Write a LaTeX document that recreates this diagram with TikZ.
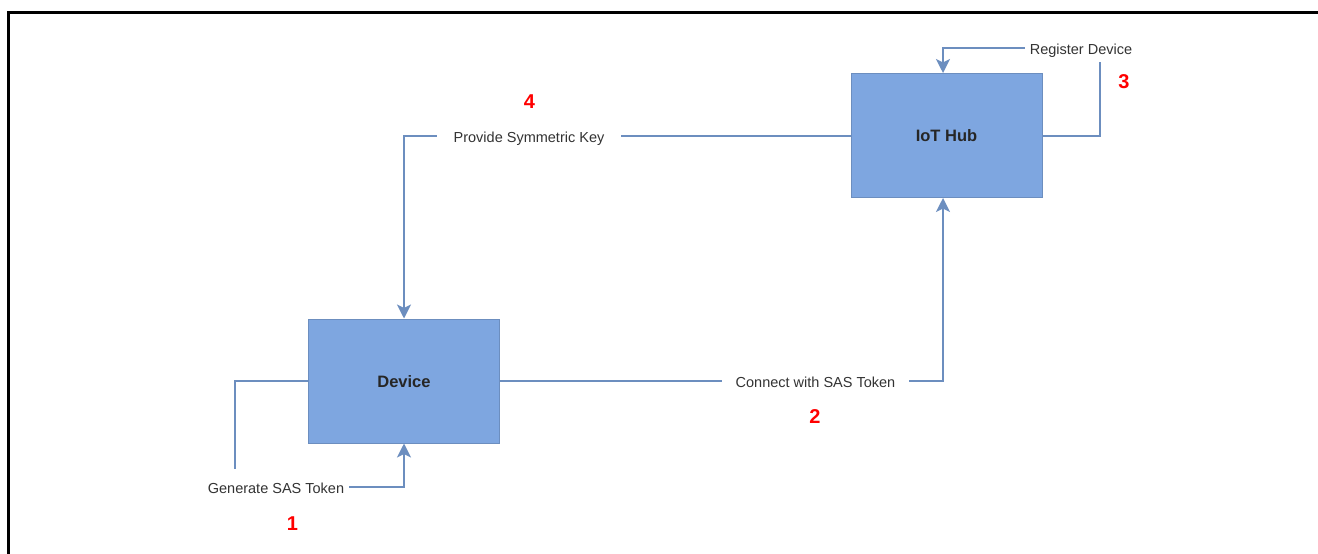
\documentclass[tikz,border=0pt]{standalone}
\usepackage{fontspec}
\setmainfont{Liberation Sans}
\usetikzlibrary{arrows.meta}
\definecolor{boxfill}{HTML}{7EA6E0}
\definecolor{boxline}{HTML}{6C8EBF}
\definecolor{labeltext}{HTML}{333333}
\definecolor{stepred}{HTML}{FF0000}
\begin{document}
\begin{tikzpicture}[x=1pt,y=-1pt,
  box/.style={draw=boxline,line width=1pt,fill=boxfill,minimum width=191pt,minimum height=124pt,
    font=\fontsize{16.5}{18}\selectfont\bfseries,text=black!85,text height=0.72em+5.5pt,text depth=0pt},
  conn/.style={draw=boxline,line width=2pt},
  tip/.style={-{Stealth[length=14pt,width=14pt,inset=3.5pt]}},
  lbl/.style={fill=white,inner sep=0pt,font=\fontsize{14.5}{16}\selectfont,text=labeltext,
    text height=0.72em+5.5pt,text depth=0pt},
  stepnum/.style={font=\fontsize{20}{22}\selectfont\bfseries,text=stepred,inner sep=0pt}]
\useasboundingbox (0,0) rectangle (1318,554);
% frame
\draw[line width=3pt] (1318,12) -- (8,12) -- (8,554);

% blocks
\node[box] (hub) at (946.5,135.5) {IoT Hub};
\node[box] (dev) at (404,381) {Device};

% bend points of the connectors
\coordinate (g1) at (235,381);
\coordinate (g2) at (235,487);
\coordinate (g3) at (404,487);
\coordinate (c1) at (943,381);
\coordinate (r1) at (1100,136);
\coordinate (r2) at (1100,48);
\coordinate (r3) at (943,48);
\coordinate (p1) at (404,136);

% connectors
\draw[conn,tip] (dev.west) -- (g1) -- (g2) -- (g3) -- (dev.south);
\draw[conn,tip] (dev.east) -- (c1) -- (c1 |- hub.south);
\draw[conn,tip] (hub.east |- r1) -- (r1) -- (r2) -- (r3) -- (r3 |- hub.north);
\draw[conn,tip] (hub.west |- p1) -- (p1) -- (dev.north);

% connector labels
\node[lbl,minimum width=146pt,minimum height=36pt] (lgen) at (276,487) {Generate SAS Token};
\node[lbl,minimum width=187pt,minimum height=24pt] (lcon) at (815.5,381) {Connect with SAS Token};
\node[lbl,minimum width=112pt,minimum height=28pt] (lreg) at (1081,48) {Register Device};
\node[lbl,minimum width=184pt,minimum height=24pt] (lkey) at (529,136) {Provide Symmetric Key};

% step numbers
\node[stepnum] (n1) at (292.5,523.5) {1};
\node[stepnum] (n2) at (815,416.5) {2};
\node[stepnum] (n3) at (1124,81.5) {3};
\node[stepnum] (n4) at (529.5,102) {4};
\end{tikzpicture}
\end{document}
